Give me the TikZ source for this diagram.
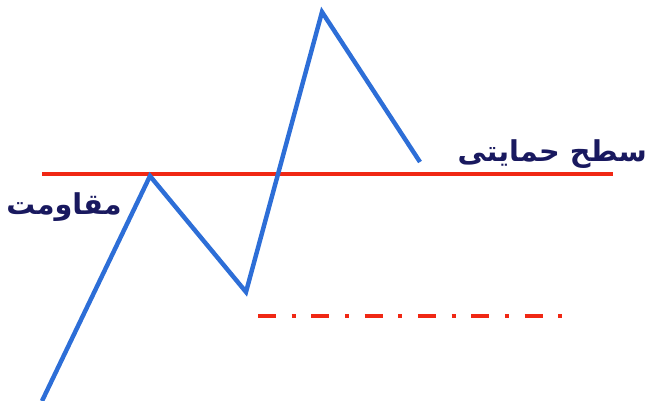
\documentclass[tikz,border=0pt]{standalone}
\usepackage{fontspec}
\usepackage{tikz}
\TeXXeTstate=1
\newfontfamily\arabicfont[Script=Arabic]{DejaVu Sans}
\definecolor{chartblue}{RGB}{45,110,215}
\definecolor{levelred}{RGB}{240,40,20}
\definecolor{labelnavy}{RGB}{25,25,95}
\tikzset{
    price/.style={chartblue, line width=3.8pt, line join=miter},
    level/.style={levelred, line width=3.4pt},
    lowlevel/.style={levelred, line width=3.4pt, dash pattern=on 15.5pt off 13.3pt on 3.4pt off 13.3pt},
    tag/.style={text=labelnavy, font=\arabicfont\bfseries\fontsize{24.5}{28}\selectfont, inner sep=0pt}
}
\begin{document}
\begin{tikzpicture}[x=0.03cm, y=-0.03cm]
\useasboundingbox (0,0) rectangle (649,401);
% price path
\coordinate (start) at (42,401);
\coordinate (top1) at (150,176);
\coordinate (low1) at (246,292);
\coordinate (top2) at (322,12);
\coordinate (stop) at (420,162);
% levels
\coordinate (resL) at (42,174);
\coordinate (resR) at (613,174);
\coordinate (supL) at (258,316);
\coordinate (supR) at (564,316);

\draw[level] (resL) -- (resR);
\draw[lowlevel] (supL) -- (supR);
\draw[price] (start) -- (top1) -- (low1) -- (top2) -- (stop);

\node[tag, anchor=east] (support) at (647,154) {\beginR سطح حمایتی\endR};
\node[tag] (resist) at (64,207) {\beginR مقاومت\endR};
\end{tikzpicture}
\end{document}
